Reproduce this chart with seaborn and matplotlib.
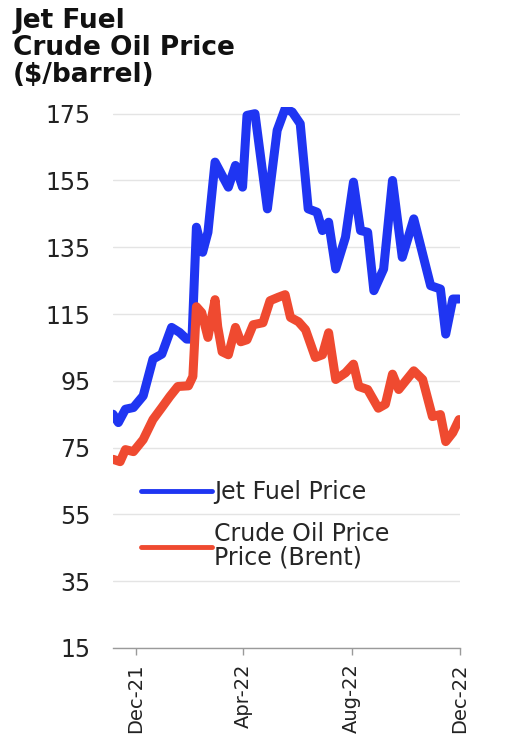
import pandas as pd
import matplotlib.pyplot as plt
import matplotlib.dates as mdates
import seaborn as sns

# values ($/barrel)
jet_dates = ['2021-11-05', '2021-11-11', '2021-11-19', '2021-11-28', '2021-12-09',
             '2021-12-20', '2021-12-30', '2022-01-10', '2022-01-19', '2022-01-27',
             '2022-02-02', '2022-02-07', '2022-02-14', '2022-02-20', '2022-02-28',
             '2022-03-15', '2022-03-23', '2022-03-31', '2022-04-05', '2022-04-14',
             '2022-04-28', '2022-05-09', '2022-05-18', '2022-05-26', '2022-06-04',
             '2022-06-13', '2022-06-23', '2022-06-29', '2022-07-06', '2022-07-14',
             '2022-07-25', '2022-08-03', '2022-08-11', '2022-08-19', '2022-08-26',
             '2022-09-06', '2022-09-16', '2022-09-27', '2022-10-10', '2022-10-29',
             '2022-11-09', '2022-11-15', '2022-11-23', '2022-11-30']
jet_price = [85, 82.5, 86.5, 87, 90.5,
             101.5, 103, 111, 109.5, 107.5,
             107.5, 141, 133.5, 139.5, 160.5,
             153, 159.5, 153, 174.5, 175,
             146.5, 170, 176.5, 175.5, 172,
             146.5, 145.5, 140, 142.5, 128.5,
             138, 154.5, 140, 139.5, 122,
             128.5, 155, 132, 143.5, 123.5,
             122.5, 109, 119.5, 119.5]

brent_dates = ['2021-11-05', '2021-11-13', '2021-11-19', '2021-11-28', '2021-12-09',
               '2021-12-20', '2021-12-30', '2022-01-08', '2022-01-17', '2022-01-29',
               '2022-02-03', '2022-02-07', '2022-02-13', '2022-02-20', '2022-02-28',
               '2022-03-03', '2022-03-08', '2022-03-15', '2022-03-23', '2022-03-29',
               '2022-04-05', '2022-04-12', '2022-04-23', '2022-05-01', '2022-05-10',
               '2022-05-18', '2022-05-24', '2022-06-02', '2022-06-10', '2022-06-21',
               '2022-06-29', '2022-07-06', '2022-07-14', '2022-07-25', '2022-08-03',
               '2022-08-09', '2022-08-19', '2022-08-31', '2022-09-08', '2022-09-16',
               '2022-09-23', '2022-10-10', '2022-10-20', '2022-10-31', '2022-11-09',
               '2022-11-15', '2022-11-23', '2022-11-30']
brent_price = [71.5, 70.8, 74.4, 73.8, 77.4,
               83.4, 87, 90.3, 93.3, 93.5,
               96.3, 117.2, 115.4, 108, 119.3,
               111.2, 103.7, 102.8, 111, 106.7,
               107.3, 111.8, 112.4, 119, 120,
               120.8, 114, 112.7, 110.3, 102,
               102.8, 109.4, 95.4, 97.4, 100,
               93.3, 92.4, 86.8, 88, 97,
               92.4, 98, 95.4, 84.3, 84.9,
               76.8, 79.5, 83.4]

y_ticks = [15, 35, 55, 75, 95, 115, 135, 155, 175]
x_ticks = ['2021-12-01', '2022-04-01', '2022-08-01', '2022-12-01']

jet = pd.DataFrame({'date': pd.to_datetime(jet_dates), 'price': jet_price})
brent = pd.DataFrame({'date': pd.to_datetime(brent_dates), 'price': brent_price})

sns.set_style('white')
plt.rcParams['font.family'] = ['DejaVu Sans']

fig = plt.figure(figsize=(5.17, 7.37), dpi=100)
ax = fig.add_axes([0.2186, 0.1208, 0.671, 0.734])

blue = '#1f35f2'
red = '#ef4a30'
sns.lineplot(data=jet, x='date', y='price', ax=ax, color=blue, lw=6.5,
             label='Jet Fuel Price', solid_joinstyle='round')
sns.lineplot(data=brent, x='date', y='price', ax=ax, color=red, lw=6.5,
             label='Crude Oil Price\nPrice (Brent)', solid_joinstyle='round')

ax.set_ylim(15, 177)
ax.set_xlim(pd.Timestamp('2021-11-05'), pd.Timestamp('2022-12-01'))
ax.set_yticks(y_ticks)
ax.set_xticks(pd.to_datetime(x_ticks))
ax.xaxis.set_major_formatter(mdates.DateFormatter('%b-%y'))
ax.set_xlabel('')
ax.set_ylabel('')

ax.grid(axis='y', color='#e4e4e4', lw=1)
ax.set_axisbelow(True)
for s in ['left', 'right', 'top']:
    ax.spines[s].set_visible(False)
ax.spines['bottom'].set_color('#9a9a9a')
ax.spines['bottom'].set_linewidth(1)

ax.tick_params(axis='y', length=0, pad=16, labelsize=17, labelcolor='#222222')
ax.tick_params(axis='x', length=5, width=1, color='#9a9a9a', pad=6,
               labelsize=14, labelcolor='#222222', labelrotation=90, bottom=True)

leg = ax.legend(loc='upper left', bbox_to_anchor=(0.08, 0.31), frameon=False,
                fontsize=17, handlelength=3.0, handletextpad=0.1, labelspacing=0.75,
                borderaxespad=0, borderpad=0)
for h in leg.get_lines():
    h.set_linewidth(3.5)
leg.get_texts()[1].set_linespacing(0.95)

fig.text(13 / 517, 1 - 8 / 737, 'Jet Fuel\nCrude Oil Price\n($/barrel)',
         ha='left', va='top', fontsize=19, fontweight='bold', linespacing=1.05,
         color='#111111')

fig.savefig('out.png', dpi=100)
